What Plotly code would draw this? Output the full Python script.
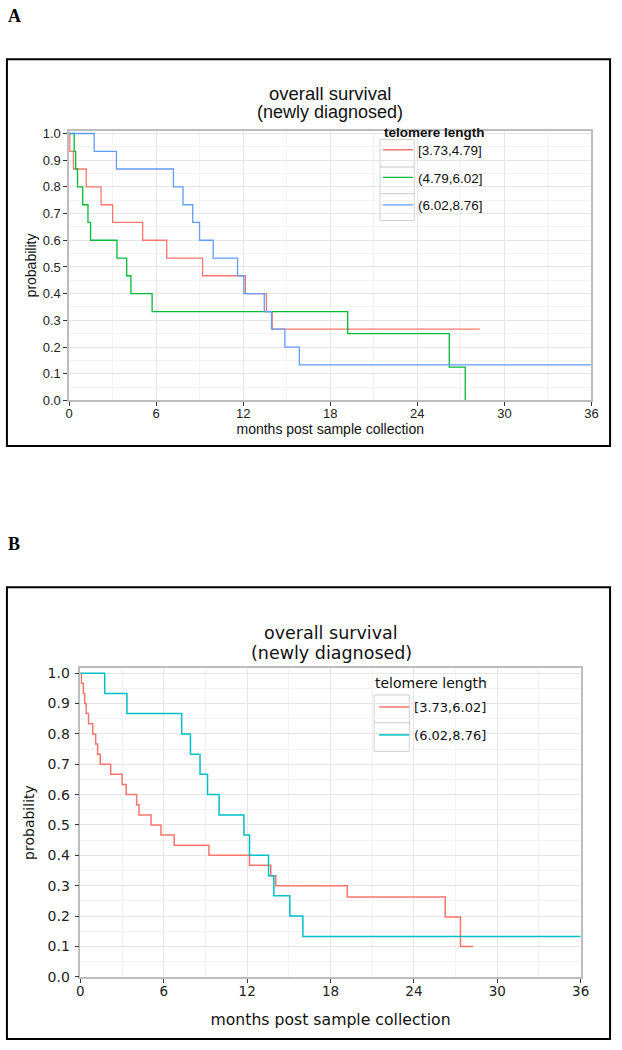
import plotly.graph_objects as go

# ---------------- data ----------------
# Panel A: three telomere-length groups
a_names = ["[3.73,4.79]", "(4.79,6.02]", "(6.02,8.76]"]
a_red_t = [0.05, 0.3, 1.18, 2.2, 3.0, 5.07, 6.73, 9.2, 12.15, 13.6, 14.0]
a_red_s = [0.933, 0.867, 0.8, 0.733, 0.667, 0.6, 0.533, 0.467, 0.4, 0.333, 0.267]
a_red_end = 28.3
a_green_t = [0.35, 0.45, 0.58, 0.94, 1.3, 1.48, 3.3, 3.97, 4.26, 5.72, 19.2, 26.2, 27.3]
a_green_s = [0.933, 0.867, 0.8, 0.733, 0.667, 0.6, 0.533, 0.467, 0.4, 0.333, 0.25, 0.125, 0.0]
a_green_end = 27.3
a_blue_t = [1.73, 3.26, 7.19, 7.85, 8.52, 8.99, 9.93, 11.61, 12.04, 13.45, 13.95, 14.87, 15.87]
a_blue_s = [0.933, 0.867, 0.8, 0.733, 0.667, 0.6, 0.533, 0.467, 0.4, 0.333, 0.267, 0.2, 0.133]
a_blue_end = 36.0

# Panel B: two telomere-length groups
b_names = ["[3.73,6.02]", "(6.02,8.76]"]
b_red_t = [0.07, 0.21, 0.31, 0.42, 0.59, 0.89, 1.1, 1.24, 1.43, 2.18, 3.0, 3.3, 4.05,
           4.22, 5.09, 5.8, 6.75, 9.25, 12.17, 13.7, 14.06, 19.2, 26.25, 27.35]
b_red_s = [0.967, 0.933, 0.9, 0.867, 0.833, 0.8, 0.767, 0.733, 0.7, 0.667, 0.633, 0.6, 0.567,
           0.533, 0.5, 0.467, 0.433, 0.4, 0.367, 0.333, 0.3, 0.263, 0.197, 0.1]
b_red_end = 28.25
b_cyan_t = [1.75, 3.35, 7.29, 7.92, 8.61, 9.15, 9.98, 11.77, 12.17, 13.54, 13.92, 15.07, 16.01]
b_cyan_s = [0.933, 0.867, 0.8, 0.733, 0.667, 0.6, 0.533, 0.467, 0.4, 0.333, 0.267, 0.2, 0.133]
b_cyan_end = 36.0

x_ticks = [0, 6, 12, 18, 24, 30, 36]
y_ticks = [0.0, 0.1, 0.2, 0.3, 0.4, 0.5, 0.6, 0.7, 0.8, 0.9, 1.0]
title_line1 = "overall survival"
title_line2 = "(newly diagnosed)"
x_title = "months post sample collection"
y_title = "probability"
legend_title = "telomere length"

RED, GREEN, BLUE, CYAN = "#F8766D", "#00BA38", "#619CFF", "#00BFC4"

W, H = 622, 1050


def px(x):
    return x / W


def py(y):
    return 1 - y / H


def km(t, s, end):
    xs = [0] + list(t) + [end]
    ys = [1.0] + list(s) + [s[-1]]
    return xs, ys


fig = go.Figure()

for t, s, end, name, col in [
    (a_red_t, a_red_s, a_red_end, a_names[0], RED),
    (a_green_t, a_green_s, a_green_end, a_names[1], GREEN),
    (a_blue_t, a_blue_s, a_blue_end, a_names[2], BLUE),
]:
    xs, ys = km(t, s, end)
    fig.add_trace(go.Scatter(x=xs, y=ys, mode="lines", name=name, legendgroup=name,
                             line=dict(color=col, width=1.3, shape="hv"),
                             xaxis="x", yaxis="y", legend="legend"))

for t, s, end, name, col in [
    (b_red_t, b_red_s, b_red_end, b_names[0], RED),
    (b_cyan_t, b_cyan_s, b_cyan_end, b_names[1], CYAN),
]:
    xs, ys = km(t, s, end)
    fig.add_trace(go.Scatter(x=xs, y=ys, mode="lines", name=name, legendgroup="b" + name,
                             line=dict(color=col, width=1.5, shape="hv"),
                             xaxis="x2", yaxis="y2", legend="legend2"))

FA = "Liberation Sans, Arial, sans-serif"
FB = "DejaVu Sans, Verdana, sans-serif"
grid = "#E6E6E6"
minor_grid = "#F3F3F3"


def xax(domain, anchor, font, tsize, titsize, standoff, lab_off):
    return dict(domain=domain, anchor=anchor, range=[0, 36], tickvals=x_ticks,
                ticks="outside", ticklen=4, tickcolor="#333333", tickwidth=1,
                ticklabelstandoff=lab_off,
                showline=True, linecolor="#BDBDBD", linewidth=1.5, mirror=True,
                showgrid=True, gridcolor=grid, gridwidth=1, zeroline=False,
                minor=dict(dtick=3, showgrid=True, gridcolor=minor_grid, gridwidth=1),
                tickfont=dict(family=font, size=tsize, color="#222222"),
                title=dict(text=x_title, font=dict(family=font, size=titsize, color="#111111"),
                           standoff=standoff))


def yax(domain, anchor, top, font, tsize, titsize, standoff, lab_off):
    return dict(domain=domain, anchor=anchor, range=[0, top], tickvals=y_ticks,
                tickformat=".1f",
                ticks="outside", ticklen=4, tickcolor="#333333", tickwidth=1,
                ticklabelstandoff=lab_off,
                showline=True, linecolor="#BDBDBD", linewidth=1.5, mirror=True,
                showgrid=True, gridcolor=grid, gridwidth=1, zeroline=False,
                minor=dict(dtick=0.05, showgrid=True, gridcolor=minor_grid, gridwidth=1),
                tickfont=dict(family=font, size=tsize, color="#222222"),
                title=dict(text=y_title, font=dict(family=font, size=titsize, color="#111111"),
                           standoff=standoff))


fig.update_layout(
    width=W, height=H,
    margin=dict(l=0, r=0, t=0, b=0),
    paper_bgcolor="white", plot_bgcolor="white",
    showlegend=True,
    xaxis=xax([px(66.5), px(600)], "y", FA, 13, 14, 0, -4),
    yaxis=yax([py(401), py(128)], "x", 1.011, FA, 13, 14, 3, 0),
    xaxis2=xax([px(78), px(589)], "y2", FB, 13.5, 15.7, 16, -3),
    yaxis2=yax([py(984), py(672)], "x2", 1.016, FB, 14, 14, 10, 2),
    legend=dict(x=px(382), y=py(132), xanchor="left", yanchor="top",
                bgcolor="rgba(0,0,0,0)", borderwidth=0, tracegroupgap=7,
                font=dict(family=FA, size=13.5, color="#111111"), itemwidth=30),
    legend2=dict(x=px(378), y=py(696), xanchor="left", yanchor="top",
                 bgcolor="rgba(0,0,0,0)", borderwidth=0, tracegroupgap=8,
                 font=dict(family=FB, size=13, color="#111111"), itemwidth=30),
)

# white legend backgrounds (hide grid lines behind the legends)
for x0, x1, y0, y1 in [(380, 505, 122, 222), (372, 500, 677, 762)]:
    fig.add_shape(type="rect", xref="paper", yref="paper", layer="between",
                  x0=px(x0), x1=px(x1), y0=py(y1), y1=py(y0),
                  line=dict(width=0), fillcolor="white")

# legend key boxes
for x0, x1, rows in [(384, 419, [137, 165, 192, 219]), (378, 414, [699, 727, 756])]:
    for r0, r1 in zip(rows[:-1], rows[1:]):
        fig.add_shape(type="rect", xref="paper", yref="paper", layer="between",
                      x0=px(x0), x1=px(x1), y0=py(r1), y1=py(r0),
                      line=dict(color="#D0D0D0", width=1), fillcolor="white")

# legend titles
fig.add_annotation(text="<b>" + legend_title + "</b>", xref="paper", yref="paper",
                   x=px(386), y=py(130), showarrow=False, xanchor="left", yanchor="middle",
                   font=dict(family=FA, size=13.5, color="#111111"))
fig.add_annotation(text=legend_title, xref="paper", yref="paper",
                   x=px(377), y=py(687), showarrow=False, xanchor="left", yanchor="middle",
                   font=dict(family=FB, size=14, color="#111111"))

# outer frames of the two panels
for y0, y1 in [(447, 56), (1047, 590)]:
    fig.add_shape(type="rect", xref="paper", yref="paper",
                  x0=px(3), x1=px(619), y0=py(y0), y1=py(y1),
                  line=dict(color="black", width=2), fillcolor="rgba(0,0,0,0)")

# titles (two lines each)
for text, xc, yc, fam, size in [
    (title_line1, 333, 91, FA, 18.5), (title_line2, 333, 109.5, FA, 18),
    (title_line1, 334, 636, FB, 17.5), (title_line2, 334, 657, FB, 17.5),
]:
    fig.add_annotation(text=text, xref="paper", yref="paper", x=px(xc), y=py(yc),
                       showarrow=False, xanchor="center", yanchor="middle",
                       font=dict(family=fam, size=size, color="#111111"))

# panel letters
for letter, yc in [("A", 12), ("B", 546)]:
    fig.add_annotation(text="<b>" + letter + "</b>", xref="paper", yref="paper",
                       x=px(2), y=py(yc), showarrow=False, xanchor="left", yanchor="middle",
                       font=dict(family="Liberation Serif, serif", size=18, color="black"))

fig.write_html("out.html", config={"displayModeBar": False},
               post_script="document.body.style.margin='0';document.body.style.overflow='hidden';")
